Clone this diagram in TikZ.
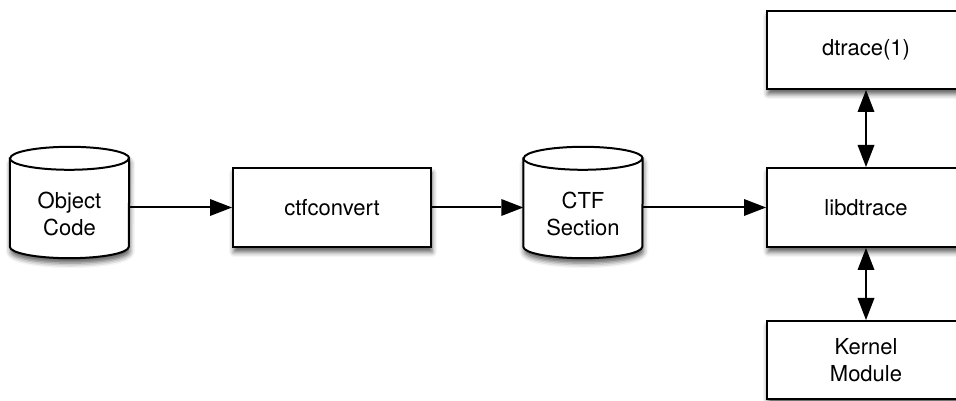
\documentclass[tikz,border=0pt]{standalone}
\usepackage{fontspec}
\setmainfont{TeX Gyre Heros}
\usetikzlibrary{arrows.meta,shadows.blur,calc}
\tikzset{
  shad/.style={blur shadow={shadow xshift=1pt,shadow yshift=-5pt,shadow blur radius=5pt,shadow opacity=65}},
  boxnode/.style={draw=black,line width=2pt,fill=white,minimum width=198pt,minimum height=79pt,
    align=center,inner sep=0pt,font=\fontsize{22}{27}\selectfont,shad},
  cylframe/.style={minimum width=119pt,minimum height=111pt,inner sep=0pt},
  cylline/.style={draw=black,line width=2pt,fill=white},
  txt/.style={align=center,inner sep=0pt,font=\fontsize{22}{27}\selectfont},
  tip/.tip={Triangle[length=22pt,width=17pt,fill=black,line width=0pt]},
  conn/.style={draw=black,line width=2pt,-tip},
  dconn/.style={draw=black,line width=2pt,tip-tip}
}
\newcommand{\mycyl}[1]{%
  \path[cylline,shad] ([yshift=-11.5pt]#1.north west) -- ([yshift=11.5pt]#1.south west)
     arc[start angle=180,end angle=360,x radius=59.5pt,y radius=11.5pt]
     -- ([yshift=-11.5pt]#1.north east)
     arc[start angle=0,end angle=180,x radius=59.5pt,y radius=11.5pt] -- cycle;
  \draw[line width=2pt] ([yshift=-11.5pt]#1.north west)
     arc[start angle=180,end angle=360,x radius=59.5pt,y radius=11.5pt];
}
\begin{document}
\begin{tikzpicture}[x=1pt,y=1pt]
\useasboundingbox (0,0) rectangle (956,401);
% cylinders
\node[cylframe] (obj) at (69.5,198.5) {};
\mycyl{obj}
\node[txt] (objt) at ([yshift=-11pt]obj.center) {Object\\Code};
\node[cylframe] (ctf) at (583,198.5) {};
\mycyl{ctf}
\node[txt] (ctft) at ([yshift=-11pt]ctf.center) {CTF\\Section};
% boxes
\node[boxnode] (ctfc) at (332,193.5) {ctfconvert};
\node[boxnode] (lib) at (866,193.5) {libdtrace};
\node[boxnode,minimum height=78pt] (dtr) at (866,351) {dtrace(1)};
\node[boxnode,minimum height=78pt] (ker) at (866,41) {Kernel\\Module};
% connectors
\draw[conn] (obj.east |- ctfc.west) -- (ctfc.west);
\draw[conn] (ctfc.east) -- (ctf.west |- ctfc.east);
\draw[conn] (ctf.east |- lib.west) -- (lib.west);
\draw[dconn] (dtr.south) -- (lib.north);
\draw[dconn] (lib.south) -- (ker.north);
\end{tikzpicture}
\end{document}
